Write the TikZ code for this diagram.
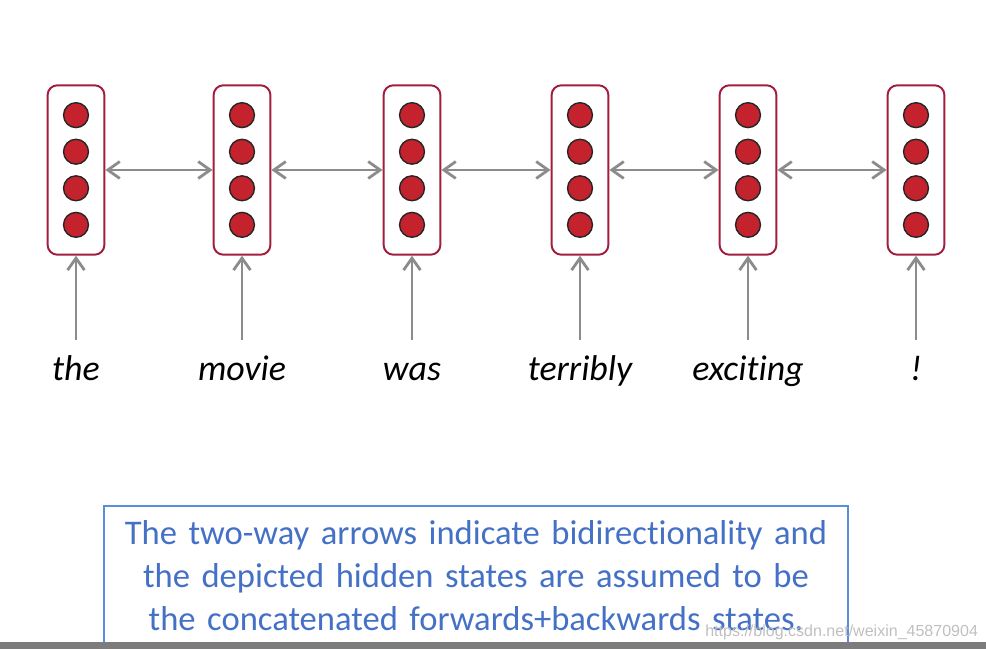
\documentclass[tikz,border=0pt]{standalone}
\usepackage{fontspec}
\usepackage{xcolor}
\usepackage{tikz}
\usetikzlibrary{arrows.meta, positioning}
\setmainfont{Carlito}[Ligatures=NoCommon]
\newfontfamily\wmfont{Liberation Sans}

\definecolor{boxred}{HTML}{A21E3C}
\definecolor{dotred}{HTML}{C4222D}
\definecolor{arrowgray}{HTML}{8C8C8C}
\definecolor{noteblue}{HTML}{5A8DE0}
\definecolor{textblue}{HTML}{4471C6}
\definecolor{bargray}{HTML}{7C7C7C}

\begin{document}
\begin{tikzpicture}[x=0.025cm, y=-0.025cm,
    state/.style={draw=boxred, line width=1.4pt, rounded corners=7pt, fill=white,
        minimum width=40.4pt, minimum height=120.5pt, inner sep=0pt},
    unit/.style={circle, draw=black!85, fill=dotred, line width=1pt,
        minimum size=17.7pt, inner sep=0pt},
    word/.style={font=\fontsize{25.5}{30}\selectfont\itshape, text height=18pt,
        text depth=6pt, inner xsep=2pt, inner ysep=10.3pt},
    link/.style={draw=arrowgray, line width=2pt,
        {Straight Barb[length=8.5pt,width=12pt]}-{Straight Barb[length=8.5pt,width=12pt]}},
    feed/.style={draw=arrowgray, line width=2pt, -{Straight Barb[length=8.5pt,width=12pt]}},
    note/.style={draw=noteblue, line width=1.2pt, text=textblue, align=center,
        font=\fontsize{24.6}{30.5}\selectfont, text width=500pt, inner xsep=14.3pt, inner ysep=10.5pt}]
    \useasboundingbox (0,0) rectangle (986,649);
    \clip (0,0) rectangle (986,649);

    % Hidden states, inputs
    \foreach \x/\w [count=\i] in {76/the, 242/movie, 412/was, 580/terribly, 748/exciting, 916/!} {
        \node[state] (h\i) at (\x,170) {};
        \foreach \d [count=\k] in {39,13,-13,-39}
            \node[unit] (u\i\k) at ([yshift=\d pt]h\i.center) {};
        \node[word, anchor=base] (w\i) at (\x,380) {\w};
        \draw[feed] (w\i) -- (h\i);
    }

    % Two-way arrows
    \foreach \a/\b in {1/2, 2/3, 3/4, 4/5, 5/6}
        \draw[link] (h\a) -- (h\b);

    % Note
    \node[note, anchor=north] (note) at (476,505) {The two-way arrows indicate bidirectionality and\\
        the depicted hidden states are assumed to be\\
        the concatenated forwards+backwards states.};

    % Bottom bar and watermark
    \fill[bargray] (0,642) rectangle (986,649);
    \node[anchor=base west, inner sep=0pt, text=black!25, font=\wmfont\fontsize{11.4}{14}\selectfont] (mark) at (705,636) {https://blog.csdn.net/weixin\_45870904};
\end{tikzpicture}
\end{document}
